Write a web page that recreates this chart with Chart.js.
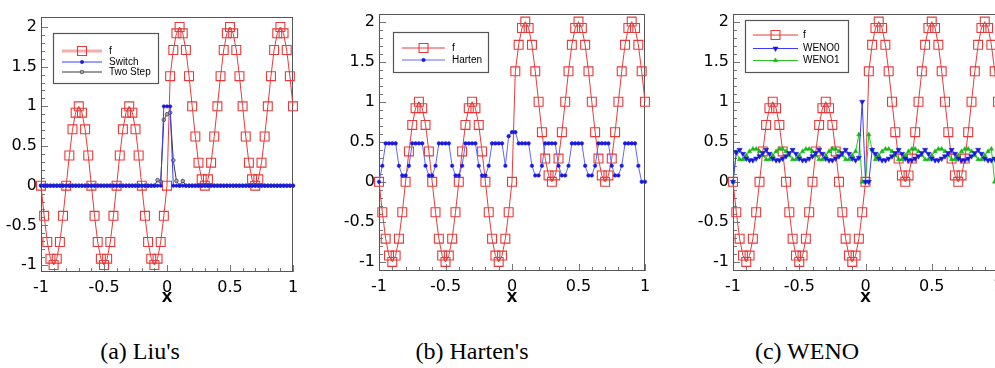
<!DOCTYPE html>
<html>
<head>
<meta charset="utf-8">
<script src="https://cdn.jsdelivr.net/npm/chart.js@4.4.0/dist/chart.umd.min.js"></script>
<style>
html, body { margin:0; padding:0; background:#fff; overflow:hidden; width:995px; height:368px; position:relative; }
canvas { position:absolute; top:0; }
.cap { position:absolute; top:337px; font-family:"Liberation Serif","Times New Roman",serif; font-size:24px; line-height:28px; color:#000; white-space:nowrap; transform:translateX(-50%); }
</style>
</head>
<body>
<canvas id="c1" width="310" height="312" style="left:0"></canvas>
<canvas id="c2" width="330" height="312" style="left:330px"></canvas>
<canvas id="c3" width="360" height="312" style="left:660px"></canvas>
<div class="cap" style="left:140px">(a) Liu's</div>
<div class="cap" style="left:472px">(b) Harten's</div>
<div class="cap" style="left:807px">(c) WENO</div>
<script>
// grid and tick values
var xGrid = [-1,-0.975,-0.95,-0.925,-0.9,-0.875,-0.85,-0.825,-0.8,-0.775,-0.75,-0.725,-0.7,-0.675,-0.65,-0.625,
  -0.6,-0.575,-0.55,-0.525,-0.5,-0.475,-0.45,-0.425,-0.4,-0.375,-0.35,-0.325,-0.3,-0.275,-0.25,-0.225,
  -0.2,-0.175,-0.15,-0.125,-0.1,-0.075,-0.05,-0.025,0,0.025,0.05,0.075,0.1,0.125,0.15,0.175,
  0.2,0.225,0.25,0.275,0.3,0.325,0.35,0.375,0.4,0.425,0.45,0.475,0.5,0.525,0.55,0.575,
  0.6,0.625,0.65,0.675,0.7,0.725,0.75,0.775,0.8,0.825,0.85,0.875,0.9,0.925,0.95,0.975,1];
var xTicks = [-1, -0.5, 0, 0.5, 1];
var yTicks = [-1, -0.5, 0, 0.5, 1, 1.5, 2];
var xMinorTicks = [-0.9,-0.8,-0.7,-0.6,-0.4,-0.3,-0.2,-0.1,0.1,0.2,0.3,0.4,0.6,0.7,0.8,0.9];
var yMinorTicks = [-0.9,-0.8,-0.7,-0.6,-0.4,-0.3,-0.2,-0.1,0.1,0.2,0.3,0.4,0.6,0.7,0.8,0.9,1.1,1.2,1.3,1.4,1.6,1.7,1.8,1.9];

var fVals = [0,-0.38,-0.71,-0.92,-1,-0.92,-0.71,-0.38,
  0,0.38,0.71,0.92,1,0.92,0.71,0.38,
  0,-0.38,-0.71,-0.92,-1,-0.92,-0.71,-0.38,
  0,0.38,0.71,0.92,1,0.92,0.71,0.38,
  0,-0.38,-0.71,-0.92,-1,-0.92,-0.71,-0.38,
  0,1.38,1.71,1.92,2,1.92,1.71,1.38,
  1,0.62,0.29,0.08,0,0.08,0.29,0.62,
  1,1.38,1.71,1.92,2,1.92,1.71,1.38,
  1,0.62,0.29,0.08,0,0.08,0.29,0.62,
  1,1.38,1.71,1.92,2,1.92,1.71,1.38,
  1];
var switchVals = [0,0,0,0,0,0,0,0, 0,0,0,0,0,0,0,0, 0,0,0,0,0,0,0,0, 0,0,0,0,0,0,0,0,
  0,0,0,0,0,0,0,1, 1,1,0,0,0,0,0,0, 0,0,0,0,0,0,0,0, 0,0,0,0,0,0,0,0,
  0,0,0,0,0,0,0,0, 0,0,0,0,0,0,0,0, 0];
var twoStepVals = [0,0,0,0,0,0,0,0, 0,0,0,0,0,0,0,0, 0,0,0,0,0,0,0,0, 0,0,0,0,0,0,0,0,
  0,0,0,0,0,0.07,0.05,0.83, 0.9,0.92,0.32,0.06,0,0.06,0,0, 0,0,0,0,0,0,0,0, 0,0,0,0,0,0,0,0,
  0,0,0,0,0,0,0,0, 0,0,0,0,0,0,0,0, 0];
var hartenVals = [0,0.2,0.48,0.48,0.48,0.48,0.2,0.08,
  0.08,0.2,0.48,0.48,0.48,0.48,0.2,0.08,
  0.08,0.2,0.48,0.48,0.48,0.48,0.2,0.08,
  0.08,0.2,0.48,0.48,0.48,0.48,0.2,0.08,
  0.08,0.2,0.48,0.48,0.48,0.48,0.2,0.57,
  0.62,0.62,0.48,0.48,0.48,0.48,0.2,0.08,
  0.08,0.2,0.48,0.48,0.48,0.48,0.2,0.08,
  0.08,0.2,0.48,0.48,0.48,0.48,0.2,0.08,
  0.08,0.2,0.48,0.48,0.48,0.48,0.2,0.08,
  0.08,0.2,0.48,0.48,0.48,0.48,0.2,0,
  0];
var weno0Vals = [0,0.37,0.40,0.35,0.29,0.27,0.27,0.29,
  0.32,0.36,0.40,0.35,0.29,0.27,0.27,0.29,
  0.32,0.36,0.40,0.35,0.29,0.27,0.27,0.29,
  0.32,0.36,0.40,0.35,0.29,0.27,0.27,0.29,
  0.32,0.36,0.40,0.35,0.29,0.27,0.30,1.0,
  0,0,0.40,0.35,0.29,0.27,0.27,0.29,
  0.32,0.36,0.40,0.35,0.29,0.27,0.27,0.29,
  0.32,0.36,0.40,0.35,0.29,0.27,0.27,0.29,
  0.32,0.36,0.40,0.35,0.29,0.27,0.27,0.29,
  0.32,0.36,0.40,0.35,0.29,0.27,0.27,0.29,
  0];
var weno1Vals = [0,0.37,0.28,0.28,0.33,0.38,0.41,0.41,
  0.38,0.33,0.28,0.28,0.33,0.38,0.41,0.41,
  0.38,0.33,0.28,0.28,0.33,0.38,0.41,0.41,
  0.38,0.33,0.28,0.28,0.33,0.38,0.41,0.41,
  0.38,0.33,0.28,0.28,0.33,0.38,0.59,0,
  0,0.59,0.40,0.28,0.33,0.38,0.41,0.41,
  0.38,0.33,0.28,0.28,0.33,0.38,0.41,0.41,
  0.38,0.33,0.28,0.28,0.33,0.38,0.41,0.41,
  0.38,0.33,0.28,0.28,0.33,0.38,0.41,0.41,
  0.38,0.33,0.28,0.28,0.33,0.38,0.41,0,
  0];

var RED = 'rgb(232,58,58)', BLUE = 'rgb(60,60,255)', DBLUE = 'rgb(25,25,225)', GREEN = 'rgb(40,200,40)';
var TICKFONT = {family: '"DejaVu Sans", sans-serif', size: 16};

function pts(vals) { return xGrid.map(function (x, i) { return {x: x, y: vals[i]}; }); }

function fSet() {
  return {label: 'f', data: pts(fVals), order: 1, borderColor: RED, borderWidth: 1,
    pointStyle: 'rect', pointRadius: 6.3, pointBorderColor: RED, pointBackgroundColor: 'rgba(0,0,0,0)',
    pointBorderWidth: 1.1, clip: false};
}

// frame with inward ticks on the left and bottom
var frameTicks = {
  id: 'frameTicks',
  beforeDatasetsDraw: function (chart) {
    var ctx = chart.ctx, a = chart.chartArea, x = chart.scales.x, y = chart.scales.y;
    ctx.save();
    ctx.strokeStyle = '#777';
    ctx.lineWidth = 1;
    ctx.beginPath();
    function vt(v, len) { var p = Math.round(x.getPixelForValue(v)) + 0.5; ctx.moveTo(p, a.bottom); ctx.lineTo(p, a.bottom - len); }
    function ht(v, len) { var p = Math.round(y.getPixelForValue(v)) + 0.5; ctx.moveTo(a.left, p); ctx.lineTo(a.left + len, p); }
    xMinorTicks.forEach(function (v) { vt(v, 4); });
    xTicks.forEach(function (v) { vt(v, 7); });
    yMinorTicks.forEach(function (v) { ht(v, 4); });
    yTicks.forEach(function (v) { ht(v, 7); });
    ctx.stroke();
    ctx.strokeStyle = '#555';
    ctx.strokeRect(Math.round(a.left) + 0.5, Math.round(a.top) + 0.5, Math.round(a.width) - 1, Math.round(a.height) - 1);
    ctx.restore();
  }
};

// framed legend box inside the plot
var boxLegend = {
  id: 'boxLegend',
  afterDraw: function (chart, args, o) {
    var ctx = chart.ctx;
    ctx.save();
    ctx.fillStyle = '#fff';
    ctx.fillRect(o.x, o.y, o.w, o.h);
    ctx.strokeStyle = '#555';
    ctx.lineWidth = 1.2;
    ctx.strokeRect(o.x + 0.5, o.y + 0.5, o.w, o.h);
    chart.data.datasets.forEach(function (ds, i) {
      var ry = o.rows[i];
      ctx.strokeStyle = (o.sampleColors && o.sampleColors[i]) || ds.borderColor;
      ctx.lineWidth = (o.sampleWidths && o.sampleWidths[i]) || ds.borderWidth;
      ctx.beginPath(); ctx.moveTo(o.x0, ry); ctx.lineTo(o.x1, ry); ctx.stroke();
      ctx.fillStyle = ds.pointBackgroundColor;
      ctx.strokeStyle = ds.pointBorderColor;
      ctx.lineWidth = ds.pointBorderWidth || 1;
      Chart.helpers.drawPoint(ctx, {pointStyle: ds.pointStyle, rotation: ds.pointRotation || 0,
        radius: ds.pointRadius, borderWidth: ds.pointBorderWidth || 1}, (o.x0 + o.x1) / 2, ry);
      ctx.fillStyle = '#000';
      ctx.font = '10px "Liberation Sans", Arial, sans-serif';
      ctx.textBaseline = 'middle';
      ctx.textAlign = 'left';
      ctx.fillText(ds.label, o.tx, ry);
    });
    ctx.restore();
  }
};

function makeChart(id, datasets, g, legend) {
  return new Chart(document.getElementById(id), {
    type: 'line',
    data: {datasets: datasets},
    options: {
      responsive: false,
      animation: false,
      layout: {padding: {top: g.top, right: g.right, left: 0, bottom: 0}},
      elements: {line: {tension: 0}},
      plugins: {legend: {display: false}, tooltip: {enabled: false}, boxLegend: legend},
      scales: {
        x: {
          type: 'linear', min: -1, max: 1,
          afterFit: function (s) { s.height = g.xh; },
          afterBuildTicks: function (s) { s.ticks = xTicks.map(function (v) { return {value: v}; }); },
          grid: {display: false, drawTicks: false},
          border: {display: false},
          ticks: {padding: 6, color: '#000', font: TICKFONT, maxRotation: 0, autoSkip: false,
            callback: function (v) { return String(v); }},
          title: {display: true, text: 'x', color: '#000', padding: {top: 0, bottom: 4},
            font: {family: '"Liberation Sans", Arial, sans-serif', size: 19, weight: 'bold'}}
        },
        y: {
          type: 'linear', min: g.ymin, max: g.ymax,
          afterFit: function (s) { s.width = g.yw; },
          afterBuildTicks: function (s) { s.ticks = yTicks.map(function (v) { return {value: v}; }); },
          grid: {display: false, drawTicks: false},
          border: {display: false},
          ticks: {padding: 4, color: '#000', font: TICKFONT, autoSkip: false,
            callback: function (v) { return String(v); }}
        }
      }
    },
    plugins: [frameTicks, boxLegend]
  });
}

makeChart('c1', [
  fSet(),
  {label: 'Switch', data: pts(switchVals), borderColor: BLUE, borderWidth: 1, pointStyle: 'circle',
    pointRadius: 1.7, pointBackgroundColor: DBLUE, pointBorderColor: DBLUE, pointBorderWidth: 0.5, clip: false},
  {label: 'Two Step', data: pts(twoStepVals), borderColor: 'rgb(55,55,55)', borderWidth: 1, pointStyle: 'circle',
    pointRadius: 1.8, pointBackgroundColor: '#aaa', pointBorderColor: '#444', pointBorderWidth: 0.8, clip: false}
], {top: 17, right: 17, yw: 41, xh: 40, ymin: -1.088, ymax: 2.126},
{x: 53, y: 33, w: 105, h: 50, rows: [51, 62, 72], x0: 62, x1: 102, tx: 109,
  sampleWidths: [3, 1, 1], sampleColors: ['rgba(232,70,70,0.45)', null, null]});

makeChart('c2', [
  fSet(),
  {label: 'Harten', data: pts(hartenVals), borderColor: 'rgb(100,100,255)', borderWidth: 1, pointStyle: 'circle',
    pointRadius: 1.8, pointBackgroundColor: DBLUE, pointBorderColor: DBLUE, pointBorderWidth: 0.5, clip: false}
], {top: 5, right: 15, yw: 49, xh: 41, ymin: -1.113, ymax: 2.10},
{x: 63, y: 32, w: 95, h: 40, rows: [48, 60], x0: 72, x1: 115, tx: 122});

makeChart('c3', [
  fSet(),
  {label: 'WENO0', data: pts(weno0Vals), borderColor: BLUE, borderWidth: 1, pointStyle: 'triangle', pointRotation: 180,
    pointRadius: 3, pointBackgroundColor: DBLUE, pointBorderColor: DBLUE, pointBorderWidth: 0.5, clip: false},
  {label: 'WENO1', data: pts(weno1Vals), borderColor: GREEN, borderWidth: 1, pointStyle: 'triangle',
    pointRadius: 2.6, pointBackgroundColor: 'rgb(20,185,20)', pointBorderColor: 'rgb(20,185,20)', pointBorderWidth: 0.5, clip: false}
], {top: 5, right: 22, yw: 73, xh: 41, ymin: -1.113, ymax: 2.10},
{x: 85, y: 20, w: 103, h: 52, rows: [35, 48.5, 60.5], x0: 93, x1: 138, tx: 143});
</script>
</body>
</html>
